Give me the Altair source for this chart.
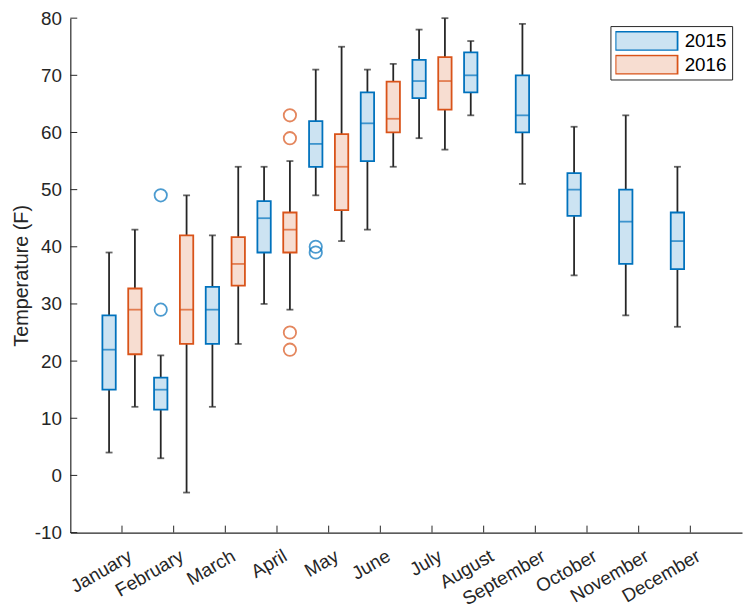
import altair as alt
import pandas as pd

months = ["January", "February", "March", "April", "May", "June",
          "July", "August", "September", "October", "November", "December"]
years = ["2015", "2016"]

# 2015 statistics (all 12 months)
lo_2015 = [4, 3, 12, 30, 49, 43, 59, 63, 51, 35, 28, 26]
q1_2015 = [15, 11.5, 23, 39, 54, 55, 66, 67, 60, 45.4, 37, 36.1]
med_2015 = [22, 15, 29, 45, 58, 61.6, 69, 70, 63, 50, 44.4, 41]
q3_2015 = [28, 17.1, 33, 48, 62, 67, 72.7, 74, 70, 52.9, 50, 46]
hi_2015 = [39, 21, 42, 54, 71, 71, 78, 76, 79, 61, 63, 54]

# 2016 statistics (January - July)
lo_2016 = [12, -3, 23, 29, 41, 54, 57]
q1_2016 = [21.2, 23, 33.2, 39, 46.4, 60, 64]
med_2016 = [29, 29, 37, 43, 54, 62.4, 69]
q3_2016 = [32.7, 42, 41.7, 46, 59.7, 68.9, 73.2]
hi_2016 = [43, 49, 54, 55, 75, 72, 80]

# outliers
out_month = ["February", "February", "May", "May", "April", "April", "April", "April"]
out_year = ["2015", "2015", "2015", "2015", "2016", "2016", "2016", "2016"]
out_value = [49, 29, 40, 39, 63, 59, 25, 22]

y_ticks = [-10, 0, 10, 20, 30, 40, 50, 60, 70, 80]

dark = ["#0072BD", "#D95319"]
light = ["#CCE3F2", "#F7DDD1"]
ink = "#262626"
FONT = "Liberation Sans"

rows = []
for i, m in enumerate(months):
    rows.append(dict(month=m, year="2015", lo=lo_2015[i], q1=q1_2015[i],
                     med=med_2015[i], q3=q3_2015[i], hi=hi_2015[i]))
for i in range(len(lo_2016)):
    rows.append(dict(month=months[i], year="2016", lo=lo_2016[i], q1=q1_2016[i],
                     med=med_2016[i], q3=q3_2016[i], hi=hi_2016[i]))
stats = pd.DataFrame(rows)
outs = pd.DataFrame(dict(month=out_month, year=out_year, v=out_value))
mdf = pd.DataFrame(dict(month=months))
ydf = pd.DataFrame(dict(t=y_ticks))

W, H = 679, 520

xscale = alt.Scale(domain=months, paddingInner=0, paddingOuter=0.5)
xaxis = alt.Axis(labelAngle=-30, labelAlign="right", labelBaseline="top",
                 labelFontSize=19, labelFont=FONT, labelColor=ink,
                 labelPadding=14, labelOffset=4, ticks=False, domainColor=ink,
                 domainWidth=1.2, labelOverlap=False)
X = alt.X("month:N", sort=months, scale=xscale, axis=xaxis, title=None)
XO = alt.XOffset("year:N", scale=alt.Scale(domain=years))
yscale = alt.Scale(domain=[-10, 80], nice=False, zero=False)
yaxis = alt.Axis(values=y_ticks, ticks=False, labelFontSize=19, labelFont=FONT,
                 labelColor=ink, labelPadding=9, domainColor=ink, domainWidth=1.2,
                 labelExpr="'' + datum.value",
                 grid=False, title="Temperature (F)", titleFontSize=20,
                 titleFont=FONT, titleFontWeight="normal", titleColor=ink,
                 titlePadding=3)
colorscale = alt.Scale(domain=years, range=dark)

base = alt.Chart(stats)

whisk = base.mark_rule(color=ink, strokeWidth=1.8).encode(
    x=X, xOffset=XO,
    y=alt.Y("lo:Q", scale=yscale, axis=yaxis), y2="hi:Q")

caps = base.transform_fold(["lo", "hi"], as_=["k", "v"]).mark_tick(
    color=ink, size=7, thickness=1.8).encode(
    x=X, xOffset=XO, y=alt.Y("v:Q"))

# wide rectangular swatch (width 6.6 x height 2 in symbol units)
legend_path = "M-3.3,-1L3.3,-1L3.3,1L-3.3,1Z"
leg = alt.Legend(title=None, orient="none", legendX=546, legendY=8,
                 symbolType=legend_path, symbolSize=361, symbolStrokeWidth=1.8,
                 symbolOffset=21, labelOffset=28, clipHeight=20,
                 labelFontSize=19, labelFont=FONT, labelColor="#000000",
                 rowPadding=4, padding=5,
                 strokeColor="#262626", fillColor="white")

box = base.mark_bar(size=13.5, strokeWidth=1.8).encode(
    x=X, xOffset=XO,
    y=alt.Y("q1:Q"), y2="q3:Q",
    fill=alt.Fill("year:N", scale=alt.Scale(domain=years, range=light), legend=leg),
    stroke=alt.Stroke("year:N", scale=alt.Scale(domain=years, range=dark), legend=leg))

med = base.mark_tick(size=13.5, thickness=1.8).encode(
    x=X, xOffset=XO, y=alt.Y("med:Q"),
    color=alt.Color("year:N", scale=colorscale, legend=None))

pts = alt.Chart(outs).mark_point(shape="circle", filled=False, size=156,
                                 strokeWidth=1.8).encode(
    x=X, xOffset=XO, y=alt.Y("v:Q"),
    color=alt.Color("year:N", scale=colorscale, legend=None))

xt = alt.Chart(mdf).mark_rule(color=ink, strokeWidth=1).encode(
    x=X, y=alt.value(H), y2=alt.value(H - 7))
yt = alt.Chart(ydf).mark_rule(color=ink, strokeWidth=1).encode(
    y=alt.Y("t:Q"), x=alt.value(0), x2=alt.value(7))

chart = alt.layer(whisk, caps, box, med, pts, xt, yt).properties(
    width=W, height=H,
    autosize=alt.AutoSizeParams(type="none"),
    padding={"left": 63, "top": 7, "right": 1, "bottom": 75},
).configure_view(stroke=None)

chart.save("out.html", embed_options={"renderer": "svg", "actions": False})
